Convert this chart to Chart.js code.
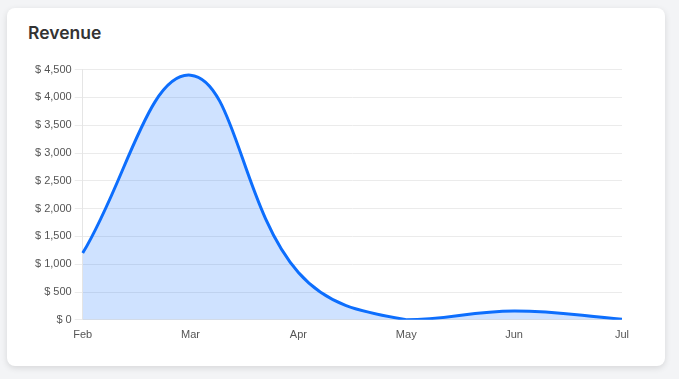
<!DOCTYPE html>
<html>
<head>
<meta charset="utf-8">
<script src="https://cdn.jsdelivr.net/npm/chart.js@4"></script>
<style>
    body { margin: 0; background: #f3f4f6; font-family: "Liberation Sans", Arial, sans-serif; }
    .card {
        position: absolute; left: 7px; top: 8px; width: 658px; height: 358px;
        background: #fff; border-radius: 8px;
        box-shadow: 0 2px 6px rgba(0,0,0,0.12);
    }
    .card h3 {
        position: absolute; left: 21px; top: 14px; margin: 0;
        font-family: Inter, "Liberation Sans", sans-serif;
        font-size: 17.5px; font-weight: 600; color: #333;
    }
    .box { position: absolute; left: 25px; top: 52px; width: 598px; height: 283px; }
</style>
</head>
<body>
<div class="card">
    <h3>Revenue</h3>
    <div class="box"><canvas id="grafico"></canvas></div>
</div>
<script>
var mesi = ['Feb', 'Mar', 'Apr', 'May', 'Jun', 'Jul'];
var ricavi = [1200, 4400, 850, 0, 160, 10];

var ctx = document.getElementById('grafico');
var chart = new Chart(ctx, {
    type: 'line',
    data: {
        labels: mesi,
        datasets: [{
            label: 'Revenue',
            data: ricavi,
            borderColor: '#0d6efd',
            backgroundColor: 'rgba(13, 110, 253, 0.2)',
            borderWidth: 3,
            fill: true,
            tension: 0.4,
            pointRadius: 0
        }]
    },
    options: {
        responsive: true,
        maintainAspectRatio: false,
        animation: false,
        plugins: { legend: { display: false }, tooltip: { enabled: false } },
        scales: {
            x: {
                grid: { display: false },
                border: { color: '#e5e5e5' },
                ticks: { color: '#555', font: { size: 11 }, maxRotation: 0, padding: 1 }
            },
            y: {
                min: 0,
                max: 4500,
                border: { color: '#e5e5e5' },
                grid: { color: '#ebebeb' },
                ticks: {
                    stepSize: 500,
                    color: '#555',
                    font: { size: 11 },
                    callback: function (v) { return '$ ' + v.toLocaleString('en-US'); }
                }
            }
        }
    }
});
</script>
</body>
</html>
